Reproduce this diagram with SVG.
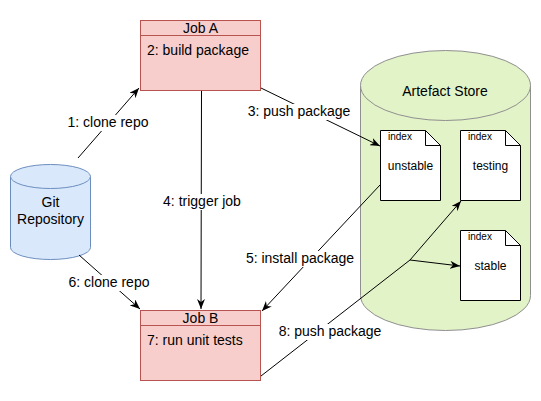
<svg xmlns="http://www.w3.org/2000/svg" width="541" height="401" viewBox="0 0 541 401">
<defs>
<style>
text{font-family:"Liberation Sans",Arial,Helvetica,sans-serif;fill:#000}
.t14{font-size:14px}
.t12{font-size:12px}
.t10{font-size:10px}
.mid{text-anchor:middle}
.job{fill:#f8cecc;stroke:#b85450;stroke-width:1}
.git{fill:#dae8fc;stroke:#6c8ebf;stroke-width:1}
.store{fill:#e3f3c8;stroke:#8f8f8f;stroke-width:1}
.doc{fill:#fff;stroke:#000;stroke-width:1}
.edge{fill:none;stroke:#000;stroke-width:1}
.lbl{fill:#fff}
</style>
<marker id="arr" viewBox="0 0 10 8" refX="10" refY="4" markerWidth="10" markerHeight="8" markerUnits="userSpaceOnUse" orient="auto">
<path d="M0,0 L10,4 L0,8 L3,4 Z" fill="#000"/>
</marker>
</defs>
<rect width="541" height="401" fill="#fff"/>

<g id="artefact-store">
<path class="store" d="M360.5,85.5 A85,35 0 0 1 530.5,85.5 V295.5 A85,35 0 0 1 360.5,295.5 Z"/>
<path class="store" fill="none" d="M360.5,85.5 A85,35 0 0 0 530.5,85.5"/>
<text class="t14 mid" x="445" y="96">Artefact Store</text>
</g>

<g id="doc-unstable">
<path class="doc" d="M380.5,130.5 H425.5 L440.5,145.5 V200.5 H380.5 Z"/>
<path class="edge" d="M425.5,130.5 V145.5 H440.5"/>
<text class="t10" x="388" y="140">index</text>
<text class="t12 mid" x="410.5" y="170">unstable</text>
</g>

<g id="doc-testing">
<path class="doc" d="M460.5,130.5 H505.5 L520.5,145.5 V200.5 H460.5 Z"/>
<path class="edge" d="M505.5,130.5 V145.5 H520.5"/>
<text class="t10" x="468" y="140">index</text>
<text class="t12 mid" x="490.5" y="170">testing</text>
</g>

<g id="doc-stable">
<path class="doc" d="M460.5,230.5 H505.5 L520.5,245.5 V300.5 H460.5 Z"/>
<path class="edge" d="M505.5,230.5 V245.5 H520.5"/>
<text class="t10" x="468" y="240">index</text>
<text class="t12 mid" x="490.5" y="270">stable</text>
</g>

<g id="git-repository">
<path class="git" d="M10.5,176.5 A40,12 0 0 1 90.5,176.5 V247.5 A40,12 0 0 1 10.5,247.5 Z"/>
<path class="git" fill="none" d="M10.5,176.5 A40,12 0 0 0 90.5,176.5"/>
<text class="t14 mid" x="50.5" y="207">Git</text>
<text class="t14 mid" x="50.5" y="224">Repository</text>
</g>

<g id="job-a">
<rect class="job" x="140.5" y="20.5" width="120" height="70"/>
<line class="job" x1="140.5" y1="35.5" x2="260.5" y2="35.5"/>
<text class="t14 mid" x="200.5" y="33">Job A</text>
<text class="t14" x="147" y="55">2: build package</text>
</g>

<g id="job-b">
<rect class="job" x="140.5" y="310.5" width="120" height="70"/>
<line class="job" x1="140.5" y1="325.5" x2="260.5" y2="325.5"/>
<text class="t14 mid" x="200.5" y="323">Job B</text>
<text class="t14" x="147" y="345">7: run unit tests</text>
</g>

<g id="connectors">
<path class="edge" d="M78,158 L139,88" marker-end="url(#arr)"/>
<path class="edge" d="M261,88 L380,146" marker-end="url(#arr)"/>
<path class="edge" d="M201.5,91 L201,309" marker-end="url(#arr)"/>
<path class="edge" d="M380,185 L262,311" marker-end="url(#arr)"/>
<path class="edge" d="M79,255 L140,309" marker-end="url(#arr)"/>
<path class="edge" d="M261,376 L410,260 L461,201" marker-end="url(#arr)"/>
<path class="edge" d="M410,260 L460,266" marker-end="url(#arr)"/>

<rect class="lbl" x="67" y="115" width="82" height="16"/>
<text class="t14 mid" x="108" y="127">1: clone repo</text>
<rect class="lbl" x="248" y="104" width="102" height="16"/>
<text class="t14 mid" x="299" y="116">3: push package</text>
<rect class="lbl" x="162" y="194" width="80" height="16"/>
<text class="t14 mid" x="202" y="206">4: trigger job</text>
<rect class="lbl" x="246" y="251" width="108" height="16"/>
<text class="t14 mid" x="300" y="263">5: install package</text>
<rect class="lbl" x="68" y="275" width="82" height="16"/>
<text class="t14 mid" x="109" y="287">6: clone repo</text>
<rect class="lbl" x="279" y="324" width="102" height="16"/>
<text class="t14 mid" x="330" y="336">8: push package</text>
</g>
</svg>
